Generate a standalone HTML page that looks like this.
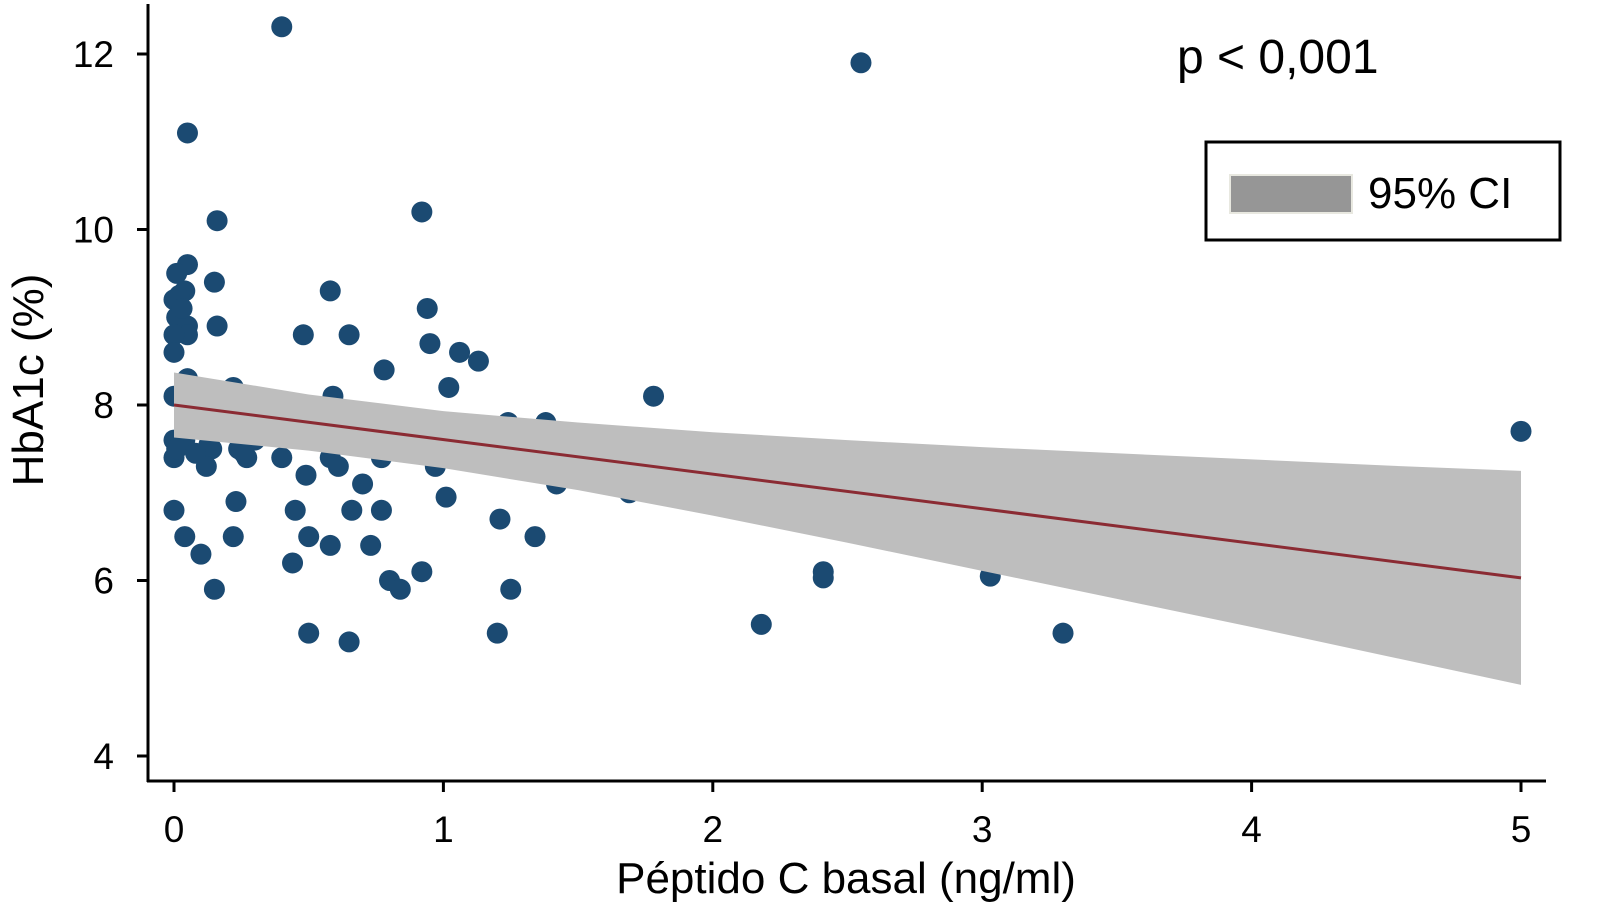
<!DOCTYPE html>
<html><head><meta charset="utf-8"><style>
html,body{margin:0;padding:0;background:#fff;}
svg{display:block;font-family:"Liberation Sans",Arial,sans-serif;}
</style></head><body>
<svg id="chart" width="1604" height="924" viewBox="0 0 1604 924">
<g id="points"></g>
<g id="band"></g>
<g id="fit"></g>
<g id="axes"></g>
<text x="1177" y="73" font-size="48" fill="#000">p &lt; 0,001</text>
<g>
<rect x="1206" y="142" width="354" height="98" fill="#fff" stroke="#000" stroke-width="3"/>
<rect x="1230" y="175" width="122" height="38" fill="#969696" stroke="#e8e8e0" stroke-width="2"/>
<text x="1368" y="208" font-size="44" fill="#000">95% CI</text>
</g>
<text x="846" y="893" font-size="44" text-anchor="middle" fill="#000">Péptido C basal (ng/ml)</text>
<text transform="translate(43,380) rotate(-90)" font-size="44" text-anchor="middle" fill="#000">HbA1c (%)</text>
</svg>
<script>
const xs=[0.40,2.55,0.05,0.16,0.92,0.05,0.01,0.15,0,0.04,0.58,0.94,0.01,0.16,0.05,0.05,0,0.48,0.65,0,0.95,1.06,1.13,0.78,1.02,1.78,0,0.59,0.05,0.22,5.0,1.24,1.38,0,0.04,0.13,0,0.27,0.01,0.14,0.24,0.40,0.58,0.61,0.77,0.97,0.12,0.49,0.70,1.42,1.69,1.01,0.23,0,0.45,0.66,0.77,1.21,0.04,0.22,0.50,1.34,0.58,0.73,0.10,0.44,0.92,0.80,2.41,2.41,3.03,0.84,0.15,1.25,2.18,0.50,1.20,3.30,0.65,0.02,0.03,0.08,0.30,0.26];
const ys=[12.31,11.9,11.1,10.1,10.2,9.6,9.5,9.4,9.2,9.3,9.3,9.1,9.0,8.9,8.9,8.8,8.8,8.8,8.8,8.6,8.7,8.6,8.5,8.4,8.2,8.1,8.1,8.1,8.3,8.2,7.7,7.8,7.8,7.6,7.6,7.55,7.4,7.4,7.5,7.5,7.5,7.4,7.4,7.3,7.4,7.3,7.3,7.2,7.1,7.1,7.0,6.95,6.9,6.8,6.8,6.8,6.8,6.7,6.5,6.5,6.5,6.5,6.4,6.4,6.3,6.2,6.1,6.0,6.1,6.03,6.05,5.9,5.9,5.9,5.5,5.4,5.4,5.4,5.3,9.25,9.1,7.45,7.6,7.45];
const bandX=[0,0.5,1,1.5,2,2.5,3,3.5,4,4.5,5];
const bandUpper=[8.37,8.12,7.93,7.80,7.69,7.60,7.52,7.45,7.38,7.31,7.25];
const bandLower=[7.63,7.48,7.28,7.03,6.74,6.43,6.11,5.79,5.47,5.14,4.81];
const fitX=[0,5];
const fitY=[8.0,6.03];
const xTicks=[0,1,2,3,4,5];
const yTicks=[4,6,8,10,12];
const NS='http://www.w3.org/2000/svg';
const sx=v=>174+v*269.4;
const sy=v=>405-(v-8)*87.75;
function mk(tag,attrs,parent){const e=document.createElementNS(NS,tag);for(const k in attrs)e.setAttribute(k,attrs[k]);parent.appendChild(e);return e;}
const gp=document.getElementById('points');
xs.forEach((x,i)=>{const c=mk('circle',{cx:sx(x),cy:sy(ys[i]),r:10.5,fill:'#1b4a72'},gp);

});
let d='M'+bandX.map((x,i)=>sx(x)+','+sy(bandUpper[i])).join(' L');
for(let i=bandX.length-1;i>=0;i--)d+=' L'+sx(bandX[i])+','+sy(bandLower[i]);
const band=mk('path',{d:d+' Z',fill:'#bebebe'},document.getElementById('band'));


const ln=mk('line',{x1:sx(fitX[0]),y1:sy(fitY[0]),x2:sx(fitX[1]),y2:sy(fitY[1]),stroke:'#8b2b33','stroke-width':3},document.getElementById('fit'));


const ga=document.getElementById('axes');
const ya=mk('line',{x1:148,y1:4,x2:148,y2:782,stroke:'#000','stroke-width':3},ga);


const xa=mk('line',{x1:147,y1:781,x2:1546,y2:781,stroke:'#000','stroke-width':3},ga);


yTicks.forEach(v=>{mk('line',{x1:137,y1:sy(v),x2:148,y2:sy(v),stroke:'#000','stroke-width':3},ga);
const t=mk('text',{x:114,y:sy(v)+13,'font-size':37,'text-anchor':'end',fill:'#000'},ga);t.textContent=v;

});
xTicks.forEach(v=>{mk('line',{x1:sx(v),y1:781,x2:sx(v),y2:792,stroke:'#000','stroke-width':3},ga);
const t=mk('text',{x:sx(v),y:842,'font-size':37,'text-anchor':'middle',fill:'#000'},ga);t.textContent=v;

});
</script>
</body></html>
